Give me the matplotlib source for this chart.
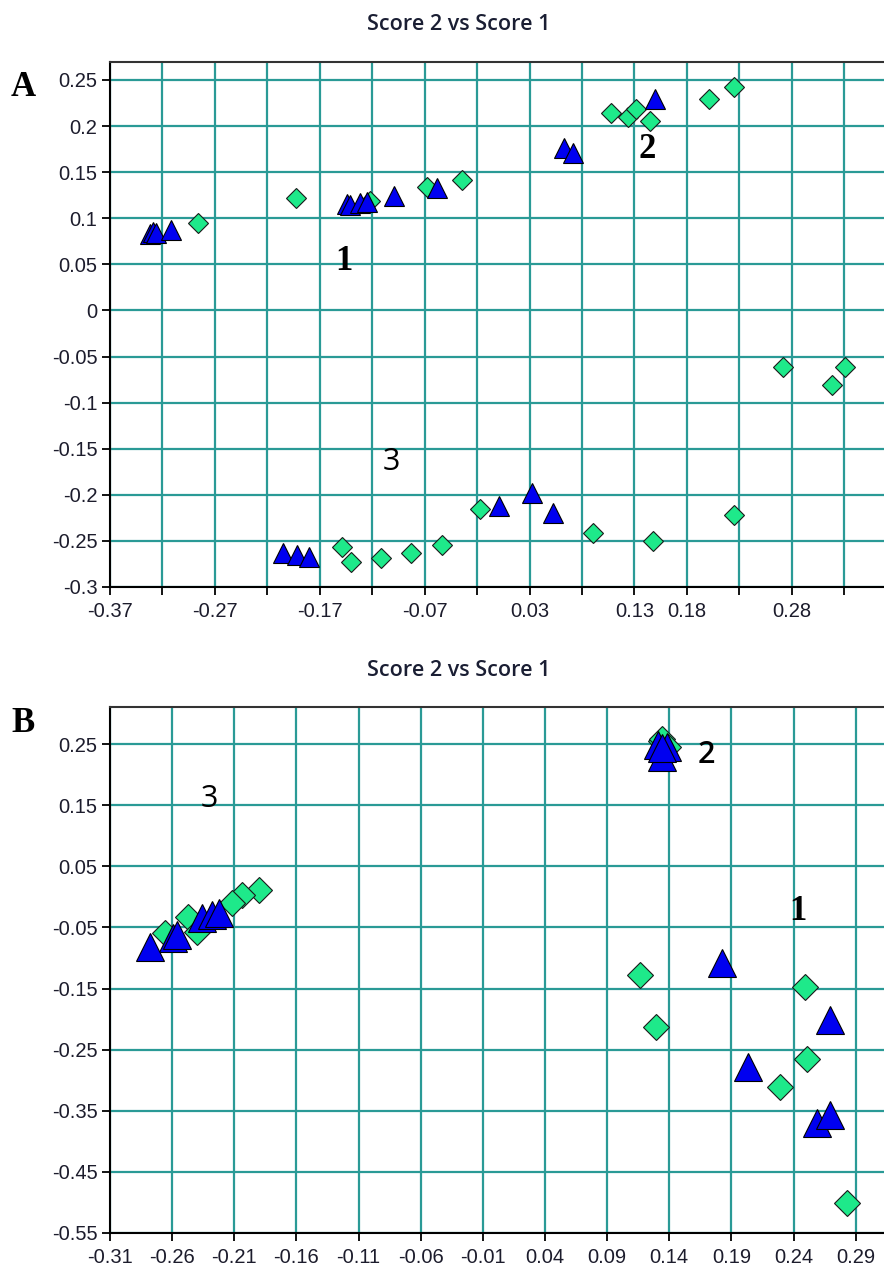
import matplotlib
matplotlib.use("Agg")
import matplotlib.pyplot as plt
import numpy as np

plt.rcParams["axes.unicode_minus"] = False
plt.rcParams["font.family"] = ["Liberation Sans", "DejaVu Sans"]

# ---------------- Panel A data ----------------
a_diamond_x = [-0.286, -0.193, -0.122, -0.0675, -0.034, 0.108, 0.124, 0.1315, 0.145,
               0.201, 0.225, -0.1485, -0.1405, -0.1116, -0.0827, -0.0537, -0.0172,
               0.0905, 0.148, 0.2253, 0.272, 0.318, 0.331]
a_diamond_y = [0.095, 0.122, 0.119, 0.134, 0.1415, 0.214, 0.2095, 0.219, 0.206,
               0.2297, 0.2428, -0.2562, -0.2731, -0.2688, -0.2634, -0.2547, -0.2156,
               -0.2417, -0.2503, -0.2218, -0.061, -0.0808, -0.061]
a_triangle_x = [-0.332, -0.329, -0.326, -0.312, -0.1443, -0.1412, -0.1316, -0.1253,
                -0.0995, -0.0585, 0.063, 0.071, 0.150, -0.2048, -0.192, -0.180,
                0.0006, 0.0327, 0.0522]
a_triangle_y = [0.083, 0.085, 0.084, 0.087, 0.1155, 0.1144, 0.1163, 0.1173,
                0.1242, 0.1325, 0.176, 0.171, 0.229, -0.2634, -0.2652, -0.2677,
                -0.212, -0.1983, -0.2193]
a_xticks = np.round(np.arange(-0.37, 0.331, 0.05), 2)
a_xlabels_shown = ["-0.37", "-0.27", "-0.17", "-0.07", "0.03", "0.13", "0.18", "0.28"]
a_yticks = np.round(np.arange(-0.30, 0.251, 0.05), 2)
a_ylabels = ["-0.3", "-0.25", "-0.2", "-0.15", "-0.1", "-0.05", "0",
             "0.05", "0.1", "0.15", "0.2", "0.25"]

# ---------------- Panel B data ----------------
b_diamond_x = [-0.1899, -0.204, -0.212, -0.2475, -0.2402, -0.2657, 0.1332, 0.1340,
               0.1390, 0.1165, 0.2492, 0.1291, 0.2506, 0.2291, 0.2833]
b_diamond_y = [0.0113, 0.003, -0.0105, -0.0324, -0.057, -0.0596, 0.255, 0.258,
               0.246, -0.1279, -0.147, -0.2126, -0.2655, -0.3118, -0.5018]
b_triangle_x = [-0.2362, -0.2282, -0.222, -0.259, -0.2563, -0.2778, 0.1339, 0.1312,
                0.1379, 0.1339, 0.1827, 0.2693, 0.2031, 0.2586, 0.2693]
b_triangle_y = [-0.035, -0.0296, -0.0268, -0.0678, -0.0624, -0.0815, 0.2297, 0.2489,
                0.246, 0.2434, -0.1088, -0.2016, -0.2781, -0.3708, -0.3572]
b_xticks = np.round(np.arange(-0.31, 0.291, 0.05), 2)
b_yticks = np.round(np.arange(-0.55, 0.251, 0.10), 2)

GREEN = "#1ee98a"
BLUE = "#0000f0"
GRID = "#2a9a96"
TEXT = "#1c1c2c"

W, H = 884, 1270
fig = plt.figure(figsize=(W / 100, H / 100), dpi=100)


def px_axes(left, top, right, bottom):
    return fig.add_axes([left / W, 1 - bottom / H, (right - left) / W, (bottom - top) / H])


def style(ax):
    ax.grid(True, color=GRID, linewidth=1.6, zorder=0)
    ax.set_axisbelow(True)
    for s in ("left", "bottom"):
        ax.spines[s].set_color("black")
        ax.spines[s].set_linewidth(1.5)
    ax.spines["top"].set_color("#333333")
    ax.spines["top"].set_linewidth(1.5)
    ax.spines["right"].set_visible(False)
    ax.tick_params(direction="out", length=6, width=1.3, color="black",
                   labelsize=14.5, labelcolor=TEXT, pad=3)
    ax.tick_params(axis="x", pad=5)


def draw_points(ax, dx, dy, tx, ty, dsize, tsize):
    ax.plot(dx, dy, linestyle="none", marker="D", markersize=dsize,
            markerfacecolor=GREEN, markeredgecolor="#1a1a1a", markeredgewidth=0.8, zorder=3)
    ax.plot(tx, ty, linestyle="none", marker="^", markersize=tsize,
            markerfacecolor=BLUE, markeredgecolor="black", markeredgewidth=0.8, zorder=4)


# ---------------- Panel A ----------------
axA = px_axes(110, 62, 884, 587)
style(axA)
draw_points(axA, a_diamond_x, a_diamond_y, a_triangle_x, a_triangle_y, 9.8, 14.5)
axA.set_xlim(-0.37, 0.368)
axA.set_ylim(-0.30, 0.2695)
axA.set_xticks(a_xticks)
axA.set_xticklabels([f"{v:.2f}" if f"{v:.2f}" in a_xlabels_shown else "" for v in a_xticks])
axA.set_yticks(a_yticks)
axA.set_yticklabels(a_ylabels)

# ---------------- Panel B ----------------
axB = px_axes(110, 706.7, 884, 1232.7)
style(axB)
draw_points(axB, b_diamond_x, b_diamond_y, b_triangle_x, b_triangle_y, 13.6, 20)
axB.set_xlim(-0.31, 0.3128)
axB.set_ylim(-0.55, 0.3116)
axB.set_xticks(b_xticks)
axB.set_xticklabels([f"{v:.2f}" for v in b_xticks])
axB.set_yticks(b_yticks)
axB.set_yticklabels([f"{v:.2f}" for v in b_yticks])

# ---------------- Titles, panel letters, group numbers ----------------
for ytitle in (25, 670.5):
    fig.text(459 / W, 1 - ytitle / H, "Score 2 vs Score 1", ha="center", va="center",
             fontsize=15.5, fontweight="semibold", family=["Open Sans", "DejaVu Sans"],
             color="#1a1e33")

serif = ["Liberation Serif", "DejaVu Serif"]
sans = ["Open Sans", "DejaVu Sans"]
fig.text(23 / W, 1 - 88 / H, "A", ha="center", va="center", fontsize=25,
         fontweight="bold", family=serif, color="black")
fig.text(23 / W, 1 - 724 / H, "B", ha="center", va="center", fontsize=25,
         fontweight="bold", family=serif, color="black")

labels = [
    (344, 262, "1", serif, "bold", 25),
    (647, 149, "2", serif, "bold", 25),
    (391, 462, "3", sans, "normal", 22),
    (209, 799, "3", sans, "normal", 22),
    (706, 755, "2", sans, "semibold", 22),
    (798, 912, "1", serif, "bold", 25),
]
for x, y, t, fam, wt, fs in labels:
    fig.text(x / W, 1 - y / H, t, ha="center", va="center", fontsize=fs,
             fontweight=wt, family=fam, color="black")

fig.savefig("out.png", dpi=100)
